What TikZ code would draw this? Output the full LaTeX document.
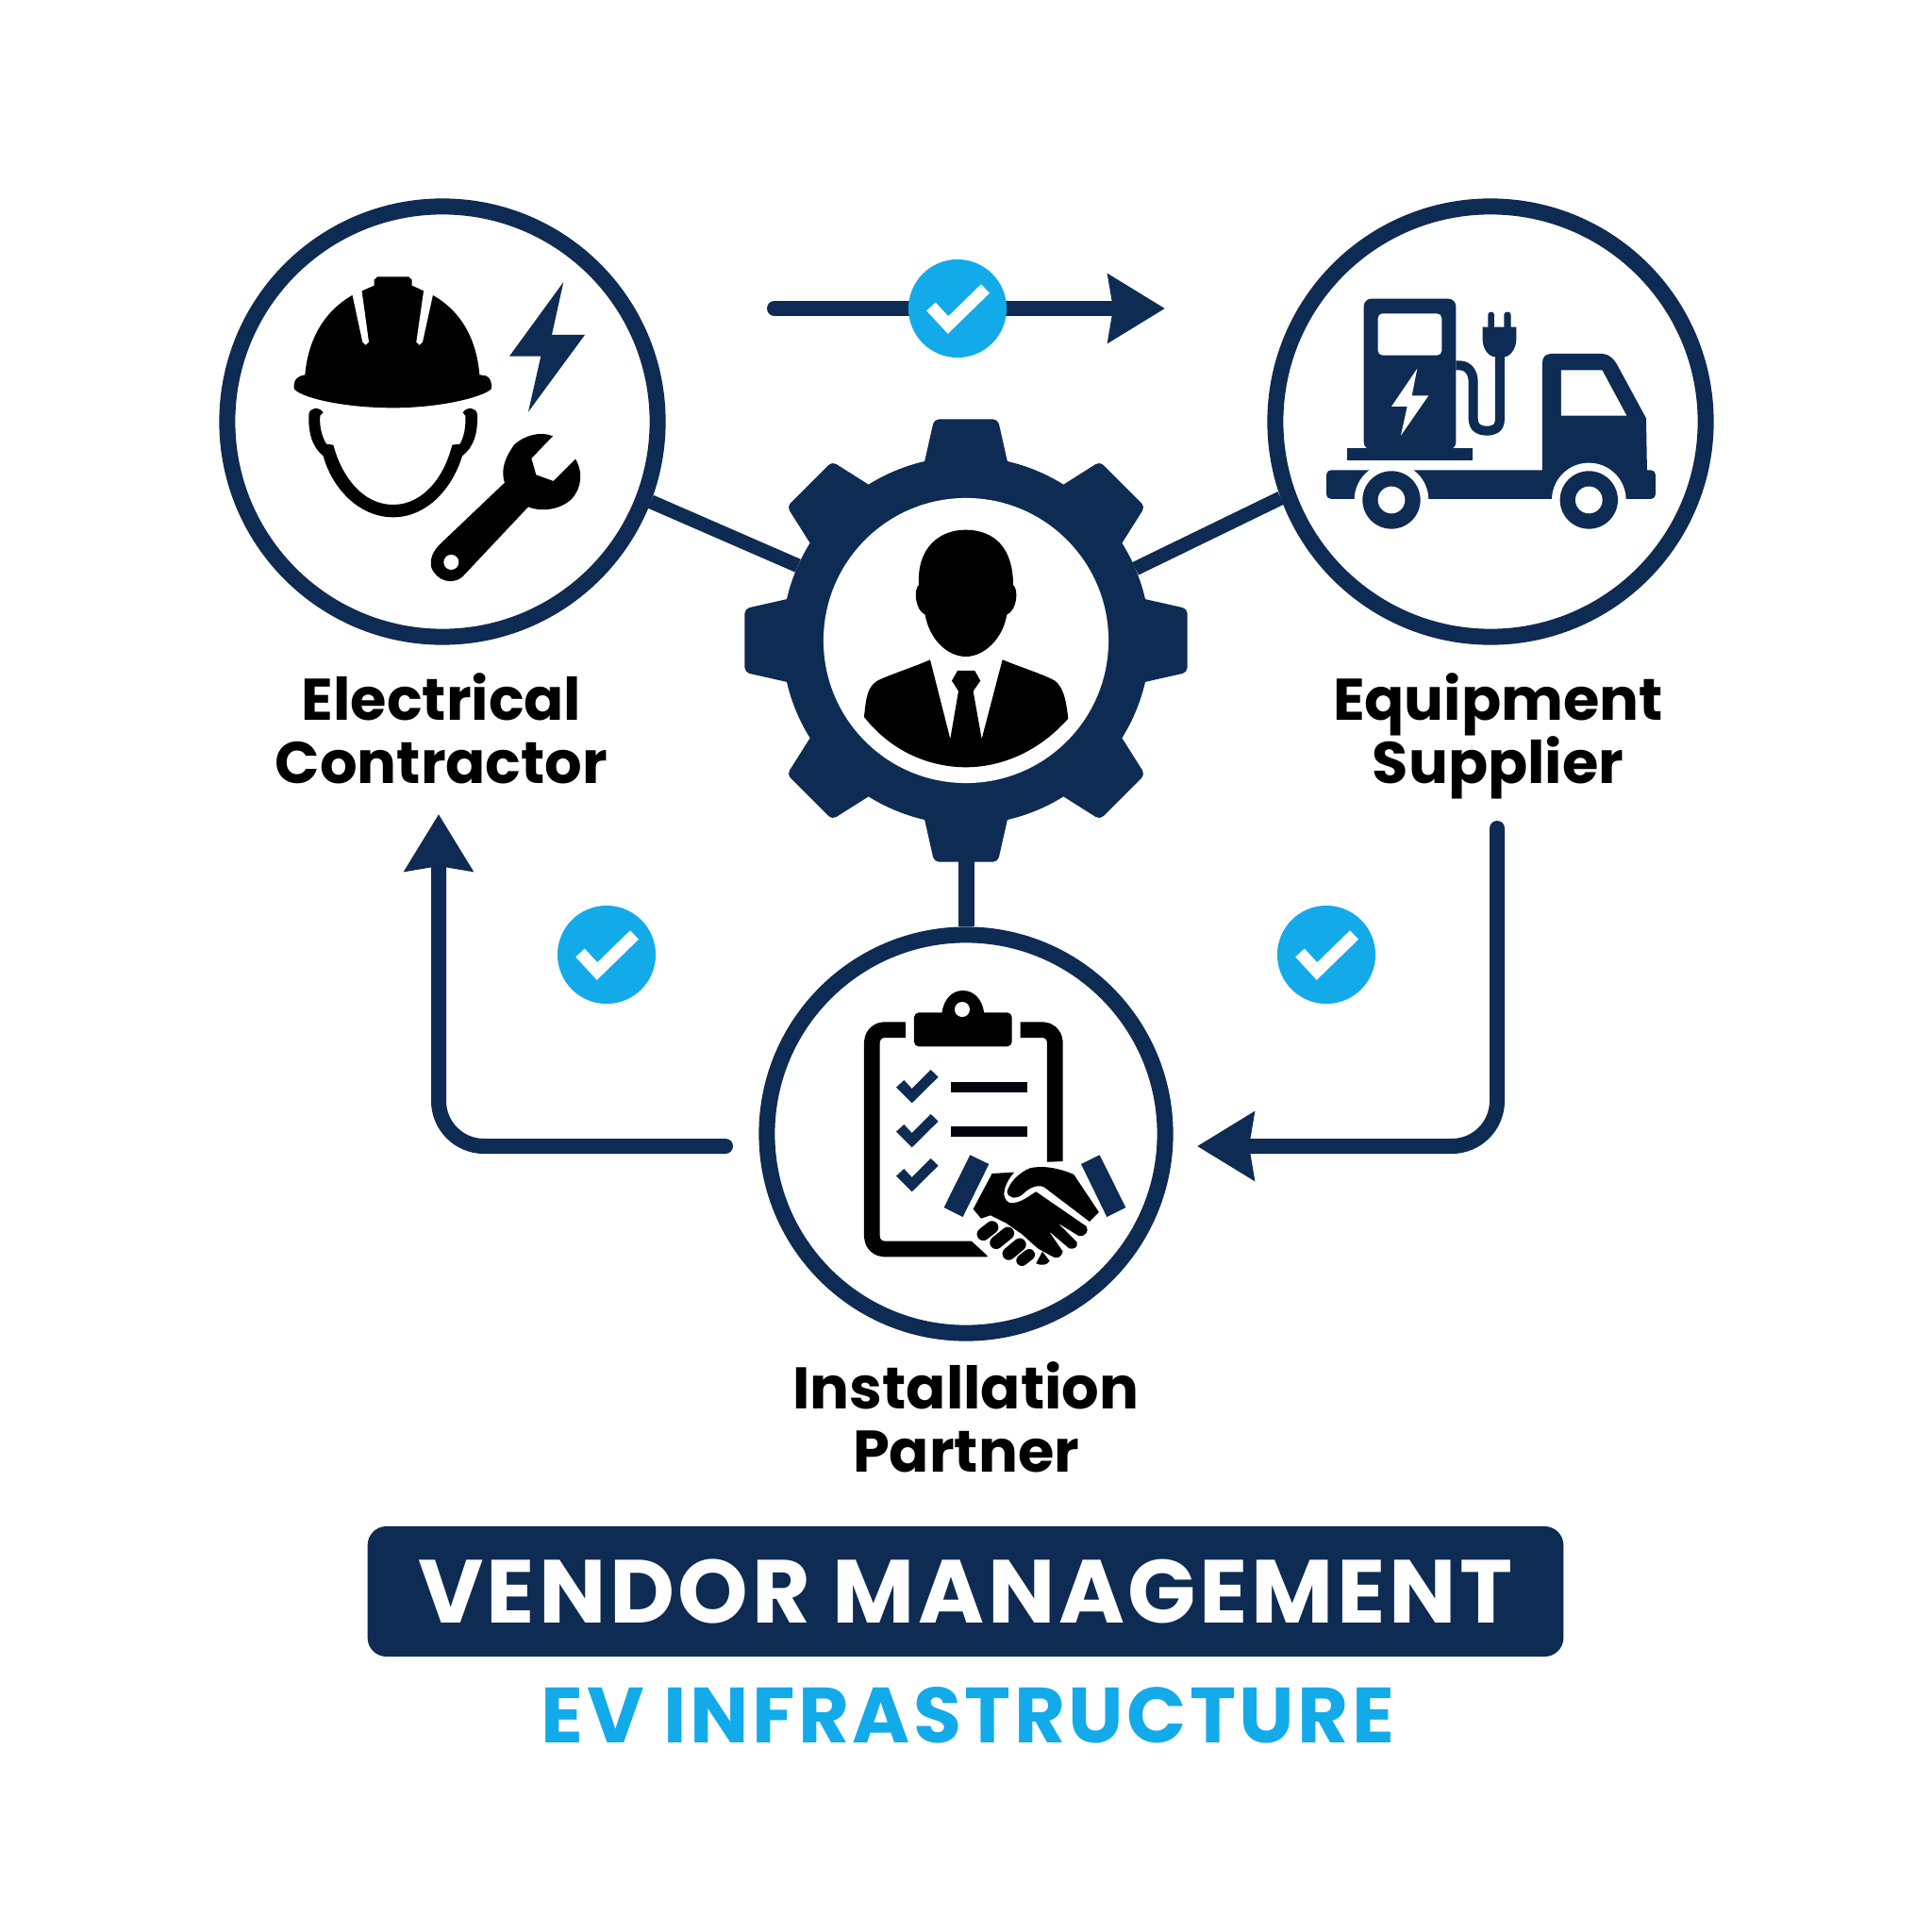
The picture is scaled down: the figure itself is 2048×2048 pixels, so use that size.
\documentclass[tikz,border=0pt]{standalone}
\usepackage{fontspec}
\setmainfont{Poppins}
\usepackage{xcolor}
\usepackage{tikz}
\usetikzlibrary{arrows.meta}
\definecolor{vendornavy}{HTML}{0E2B54}
\definecolor{vendorblue}{HTML}{13AAEA}
\tikzset{
	hub/.style={circle,draw=vendornavy,line width=0.17cm,fill=white,inner sep=0pt},
	link/.style={draw=vendornavy,line width=0.15cm},
	flow/.style={draw=vendornavy,line width=0.16cm,line cap=round,rounded corners=0.48cm},
	badge/.style={circle,fill=vendorblue,minimum size=1.04cm,inner sep=0pt},
	tick/.style={draw=white,line width=0.13cm,line join=miter},
	vendorlabel/.style={font=\fontsize{17.7}{19}\selectfont\bfseries,text=black,align=center,inner sep=0pt}
}
\begin{document}
\begin{tikzpicture}[line join=round,>={Stealth[length=0.6cm,width=0.71cm,inset=0.05cm]},x=0.01cm,y=-0.01cm]
	\useasboundingbox (0,0) rectangle (2048,2048);
	\fill[white] (0,0) rectangle (2048,2048);
	% vendors and manager
	\node[hub,minimum size=4.56cm] (contractor) at (469,447) {};
	\node[hub,minimum size=4.56cm] (supplier) at (1580,447) {};
	\node[hub,minimum size=4.22cm] (partner) at (1024,1202) {};
	\node[circle,minimum size=3.9cm,inner sep=0pt,outer sep=0pt] (gear) at (1024,679) {};
	\draw[link] (contractor.339) -- (gear.156.5);
	\draw[link] (supplier.200) -- (gear.23.5);
	\draw[draw=vendornavy,line width=0.17cm] (gear.south) -- (partner.north);
	\begin{scope}[shift={(1024,679)}]
	\fill[vendornavy] (-13:195)
		\foreach \a in {0,45,...,315} {
			-- (\a-13:195) [rounded corners=0.05cm] -- (\a-8.2:237) -- (\a+8.2:237) [sharp corners] -- (\a+13:195)
			arc[start angle=\a+13,end angle=\a+32,radius=195]
		} -- cycle;
	\end{scope}
	\node[circle,fill=white,minimum size=3.02cm,inner sep=0pt] (manager) at (1024,679) {};
	% manager person
	\begin{scope}[shift={(770,420)},scale=0.3333]
	\fill[black] (612,600) .. controls (605,480) and (680,425) .. (760,425) .. controls (850,425) and (912,480) .. (912,600) .. controls (930,615) and (925,680) .. (892,695) .. controls (880,770) and (820,828) .. (762,828) .. controls (700,828) and (645,770) .. (632,695) .. controls (600,680) and (595,615) .. (612,600) -- cycle;
	\fill[black] (438,1020) .. controls (445,950) and (450,925) .. (480,905) .. controls (520,885) and (600,860) .. (648,838) -- (712,1090) -- (738,938) -- (717,905) -- (735,873) -- (790,873) -- (808,905) -- (785,938) -- (812,1090) -- (878,838) .. controls (930,860) and (1010,885) .. (1045,905) .. controls (1070,925) and (1080,960) .. (1087,1025) .. controls (1000,1125) and (880,1180) .. (762,1180) .. controls (640,1180) and (520,1125) .. (438,1020) -- cycle;
	\end{scope}
	% contractor icons
	\begin{scope}[shift={(220,200)},scale=0.3333]
	\fill[black] (275,625) .. controls (275,605) and (290,595) .. (310,592) .. controls (320,480) and (370,390) .. (462,338) -- (530,308) -- (530,290) -- (540,280) -- (640,280) -- (650,290) -- (650,308) -- (715,338) .. controls (800,385) and (855,470) .. (865,592) -- (885,595) .. controls (900,600) and (905,620) .. (903,635) .. controls (895,655) and (760,697) .. (590,697) .. controls (420,697) and (285,660) .. (275,635) -- cycle;
	\fill[white] (460,335) -- (490,320) -- (513,488) -- (503,497) -- (493,488) -- cycle;
	\fill[white] (688,320) -- (717,337) -- (684,488) -- (674,497) -- (664,488) -- cycle;
	\fill[black] (322,718) .. controls (325,695) and (355,692) .. (368,712) -- (358,722) .. controls (355,760) and (365,790) .. (378,812) -- (400,815) .. controls (425,910) and (490,1005) .. (590,1005) .. controls (690,1005) and (755,910) .. (778,815) -- (803,812) .. controls (815,790) and (822,760) .. (820,722) -- (812,712) .. controls (825,692) and (855,695) .. (858,718) .. controls (860,770) and (850,820) .. (810,850) .. controls (780,950) and (700,1045) .. (590,1045) .. controls (480,1045) and (395,950) .. (368,850) .. controls (330,820) and (320,770) .. (322,718) -- cycle;
	\fill[vendornavy] (1132,297) -- (960,533) -- (1060,533) -- (1020,710) -- (1200,465) -- (1095,465) -- cycle;
	\fill[black] (945,935) .. controls (930,890) and (950,850) .. (975,815) .. controls (1005,785) and (1060,770) .. (1098,787) -- (1030,858) -- (1045,910) -- (1100,930) -- (1170,860) .. controls (1195,900) and (1190,950) .. (1160,985) .. controls (1125,1020) and (1065,1030) .. (1020,1012) -- (810,1235) .. controls (780,1260) and (730,1250) .. (712,1205) .. controls (705,1175) and (720,1150) .. (740,1130) -- cycle;
	\fill[white] (775,1188) circle (24);
	\end{scope}
	% supplier icons
	\begin{scope}[shift={(1330,200)},scale=0.3333]
	\fill[vendornavy,rounded corners=0.08cm] (347,830) -- (347,350) -- (640,350) -- (640,830) -- cycle;
	\fill[white,rounded corners=0.05cm] (392,397) rectangle (595,530);
	\fill[vendornavy] (295,825) rectangle (693,865);
	\fill[white] (517,572) -- (435,693) -- (485,693) -- (465,785) -- (553,658) -- (500,658) -- cycle;
	\draw[vendornavy,line width=0.1cm] (640,562) -- (650,562) .. controls (680,562) and (695,585) .. (695,615) -- (695,730) .. controls (695,765) and (720,770) .. (737,770) .. controls (760,770) and (780,765) .. (780,730) -- (780,530);
	\fill[vendornavy,rounded corners=0.03cm] (742,450) rectangle (762,392);
	\fill[vendornavy,rounded corners=0.03cm] (793,450) rectangle (815,392);
	\fill[vendornavy] (725,440) -- (832,440) -- (832,480) .. controls (832,510) and (810,535) .. (795,535) -- (765,535) .. controls (745,535) and (725,510) .. (725,480) -- cycle;
	\fill[vendornavy,rounded corners=0.05cm] (228,987) -- (228,895) -- (1275,895) -- (1275,987) -- cycle;
	\fill[vendornavy] (915,900) -- (915,555) .. controls (915,535) and (925,525) .. (945,525) -- (1105,525) .. controls (1125,525) and (1140,540) .. (1150,555) -- (1245,730) -- (1248,900) -- cycle;
	\fill[white] (975,577) -- (1105,577) -- (1183,722) -- (975,722) -- cycle;
	\foreach \w in {435,1063} {
		\fill[white] (\w,990) circle (118);
		\fill[vendornavy] (\w,990) circle (92);
		\fill[white] (\w,990) circle (43);
	}
	\end{scope}
	% partner icons
	\begin{scope}[shift={(790,980)},scale=0.3333]
	\draw[black,line width=0.1667cm,rounded corners=0.13cm] (510,335) -- (403,335) -- (403,1032) -- (770,1032);
	\draw[black,line width=0.1667cm,rounded corners=0.13cm] (875,335) -- (985,335) -- (985,755);
	\fill[white] (718,1005) -- (778,1005) -- (778,1060) -- cycle;
	\fill[black,rounded corners=0.05cm] (537,280) rectangle (848,388);
	\fill[black] (625,285) .. controls (630,235) and (660,210) .. (692,210) .. controls (725,210) and (755,235) .. (760,285) -- cycle;
	\fill[white] (690,270) circle (24);
	\foreach \d in {0,141,282} {
		\fill[vendornavy] (480,518+\d) -- (505,495+\d) -- (530,522+\d) -- (590,462+\d) -- (614,485+\d) -- (530,568+\d) -- cycle;
	}
	\fill[black!85!vendornavy] (655,502) rectangle (898,534);
	\fill[black!85!vendornavy] (655,643) rectangle (898,675);
	\fill[white] (760,770) -- (1060,750) -- (1140,915) -- (1095,980) -- (900,1090) -- (730,1000) -- (700,900) -- cycle;
	\fill[vendornavy] (715,733) -- (775,762) -- (692,930) -- (632,900) -- cycle;
	\fill[vendornavy] (1127,733) -- (1068,762) -- (1150,930) -- (1210,900) -- cycle;
	\fill[black] (725,905) -- (785,792) -- (855,788) .. controls (820,830) and (812,870) .. (840,885) .. controls (875,890) and (905,860) .. (925,850) -- (1085,960) .. controls (1095,975) and (1080,995) .. (1060,990) -- (995,950) -- (1055,1010) .. controls (1060,1025) and (1045,1035) .. (1030,1030) -- (965,975) -- (1010,1040) .. controls (1005,1060) and (990,1065) .. (975,1055) -- (930,1030) -- (880,985) -- (830,950) -- (780,925) -- (750,935) -- cycle;
	\fill[black] (833,850) .. controls (840,820) and (870,790) .. (905,775) .. controls (945,765) and (1000,775) .. (1045,795) -- (1125,915) -- (1095,945) -- (950,835) .. controls (925,825) and (900,840) .. (880,860) .. controls (860,875) and (835,870) .. (833,850) -- cycle;
	\draw[black,line width=0.135cm,line cap=round] (757,985) -- (785,963);
	\draw[black,line width=0.135cm,line cap=round] (798,1012) -- (835,982);
	\draw[black,line width=0.135cm,line cap=round] (838,1047) -- (873,1018);
	\draw[black,line width=0.12cm,line cap=round] (880,1068) -- (903,1050);
	\fill[black] (925,1078) -- (945,1040) -- (968,1070) .. controls (960,1085) and (940,1085) .. (925,1078) -- cycle;
	\end{scope}
	% flows
	\coordinate (topstart) at (821,327);
	\coordinate (toptip) at (1235,327);
	\coordinate (leftstart) at (769,1215);
	\coordinate (leftbend) at (465,1215);
	\coordinate (lefttip) at (465,863);
	\coordinate (rightstart) at (1587,878);
	\coordinate (rightbend) at (1587,1215);
	\coordinate (righttip) at (1269,1215);
	\draw[flow,->] (topstart) -- (toptip);
	\draw[flow,->] (leftstart) -- (leftbend) -- (lefttip);
	\draw[flow,->] (rightstart) -- (rightbend) -- (righttip);
	% badges
	\foreach \n/\x/\y in {topbadge/1015/327,leftbadge/643/1012,rightbadge/1406/1012} {
		\node[badge] (\n) at (\x,\y) {};
		\draw[tick] (\x-28,\y-2) -- (\x-10,\y+17.5) -- (\x+29.5,\y-21);
	}
	% labels
	\node[vendorlabel] (contractorlabel) at (468,772) {Electrical\\Contractor};
	\node[vendorlabel] (supplierlabel) at (1588,780) {Equipment\\Supplier};
	\node[vendorlabel] (partnerlabel) at (1024,1502.5) {Installation\\Partner};
	\node[fill=vendornavy,rounded corners=0.2cm,minimum width=12.67cm,minimum height=1.38cm,inner sep=0pt,text=white,font=\fontsize{27}{27}\selectfont\bfseries\addfontfeature{LetterSpace=3.85}] (title) at (1023.5,1687) {VENDOR MANAGEMENT};
	\node[text=vendorblue,inner sep=0pt,font=\fontsize{23.6}{24}\selectfont\bfseries\addfontfeature{LetterSpace=4.1}] (subtitle) at (1026,1818) {EV INFRASTRUCTURE};
\end{tikzpicture}
\end{document}
